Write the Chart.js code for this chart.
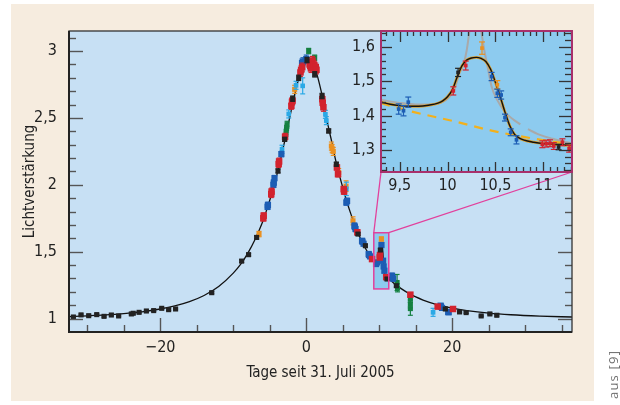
<!DOCTYPE html>
<html><head><meta charset="utf-8">
<script src="https://cdn.jsdelivr.net/npm/chart.js@4.4.1/dist/chart.umd.min.js"></script>
<style>
html,body{margin:0;padding:0;background:#fff;width:620px;height:405px;overflow:hidden;}
#bg{position:absolute;left:11px;top:4px;width:583px;height:397px;background:#f6ecdf;}
#main,#inset{position:absolute;left:0;top:0;}
#src{position:absolute;left:604px;top:399px;transform-origin:0 0;transform:rotate(-90deg);font:13px 'Open Sans',sans-serif;letter-spacing:1.2px;color:#6f6f6f;white-space:nowrap;}
</style></head><body>
<div id="bg"></div>
<canvas id="main" width="620" height="405"></canvas>
<canvas id="inset" width="620" height="405"></canvas>
<div id="src">aus [9]</div>
<script>
// ---------- data (days since 31 July 2005, magnification) ----------
const curveT = [-32.5,-30,-27.5,-25,-22.5,-20,-18,-16,-14,-12,-10,-9,-8,-7,-6,-5.5,-5,-4.5,-4,-3.5,-3,-2.5,-2,-1.5,-1,-0.5,0,0.3,0.6,1,1.5,2,2.5,3,3.5,4,4.5,5,5.5,6,6.5,7,7.5,8,8.5,9,9.3,9.6,9.9,10.0,10.1,10.2,10.3,10.4,10.5,10.6,10.7,10.8,11.0,11.3,12,13,14,15,16,18,20,22,25,28,32,36.4];
const curveA = [1.015,1.021,1.028,1.038,1.051,1.072,1.095,1.127,1.173,1.24,1.34,1.405,1.49,1.594,1.72,1.8,1.885,1.978,2.08,2.195,2.315,2.443,2.572,2.694,2.8,2.882,2.928,2.936,2.93,2.893,2.818,2.71,2.585,2.44,2.32,2.19,2.08,1.98,1.885,1.8,1.722,1.65,1.59,1.535,1.49,1.455,1.437,1.428,1.434,1.45,1.515,1.553,1.566,1.55,1.49,1.40,1.345,1.33,1.318,1.30,1.265,1.224,1.19,1.162,1.139,1.103,1.078,1.06,1.041,1.029,1.019,1.012];

// [t, A, error]
const obsBlack = [[-31.9,1.012,.006],[-30.85,1.028,.006],[-29.8,1.022,.006],[-28.7,1.03,.006],[-27.7,1.017,.006],[-26.7,1.027,.006],[-25.7,1.02,.006],[-23.96,1.035,.006],[-23.7,1.04,.006],[-22.9,1.047,.006],[-21.9,1.057,.006],[-20.9,1.06,.006],[-19.8,1.077,.006],[-18.85,1.067,.006],[-17.9,1.072,.006],[-12.95,1.194,.008],[-8.85,1.43,.01],[-7.9,1.478,.01],[-6.8,1.607,.012],[-3.87,2.104,.015],[-2.96,2.34,.015],[-1.86,2.644,.02],[-1.04,2.8,.02],[0.1,2.933,.02],[1.15,2.826,.02],[2.16,2.664,.02],[3.07,2.403,.015],[4.12,2.154,.015],[7.09,1.632,.01],[8.1,1.545,.01],[10.15,1.513,.01],[11.07,1.296,.01],[12.34,1.246,.01],[19.05,1.072,.008],[21.0,1.05,.006],[21.9,1.045,.006],[23.96,1.02,.006],[25.15,1.035,.006],[26.1,1.025,.006]];
const obsRed = [[-5.88,1.75,.02],[-5.83,1.77,.02],[-4.8,1.93,.025],[-4.75,1.95,.025],[-3.78,2.155,.025],[-3.72,2.175,.025],[-2.9,2.36,.025],[-2.04,2.59,.025],[-1.95,2.62,.025],[-1.88,2.63,.025],[-0.8,2.84,.03],[-0.7,2.86,.03],[-0.55,2.88,.03],[0.45,2.9,.03],[0.56,2.888,.03],[0.65,2.87,.03],[0.85,2.93,.03],[1.05,2.9,.03],[1.3,2.88,.03],[1.4,2.86,.03],[2.2,2.64,.03],[2.25,2.614,.03],[2.35,2.58,.03],[4.2,2.13,.02],[4.35,2.08,.02],[5.13,1.968,.02],[5.18,1.95,.02],[7.0,1.645,.02],[9.01,1.445,.015],[10.06,1.457,.015],[10.1,1.475,.015],[10.95,1.31,.015],[14.26,1.179,.015],[18.0,1.09,.015],[20.1,1.072,.015]];
const obsBlue = [[-5.3,1.836,.02],[-5.25,1.85,.02],[-4.5,2.0,.02],[-4.45,2.017,.02],[-4.35,2.05,.02],[-3.41,2.23,.02],[-0.58,2.91,.03],[-0.45,2.92,.03],[0.0,2.94,.03],[0.7,2.9,.03],[5.49,1.868,.02],[5.59,1.88,.02],[6.6,1.694,.02],[6.65,1.685,.02],[6.75,1.67,.02],[7.64,1.582,.015],[7.7,1.575,.015],[7.85,1.56,.015],[8.55,1.483,.015],[8.6,1.475,.015],[8.75,1.465,.015],[9.56,1.408,.015],[9.7,1.42,.015],[10.3,1.55,.015],[10.52,1.433,.015],[10.6,1.39,.015],[10.7,1.358,.015],[11.75,1.32,.02],[11.9,1.30,.02],[18.4,1.097,.015],[18.45,1.09,.015],[18.6,1.08,.015],[19.45,1.05,.015],[19.5,1.047,.015]];
const obsCyan = [[-3.32,2.266,.03],[-2.4,2.53,.03],[-1.4,2.744,.03],[-0.49,2.74,.06],[2.62,2.527,.03],[2.75,2.48,.03],[5.49,1.97,.05],[17.37,1.047,.03]];
const obsGreen = [[-2.77,2.39,.025],[-2.7,2.42,.025],[-2.63,2.45,.025],[0.33,3.0,.02],[1.15,2.95,.02],[12.44,1.27,.06],[12.5,1.23,.03],[14.26,1.15,.03],[14.26,1.11,.03],[14.26,1.075,.05]];
const obsOrange = [[-6.47,1.632,.02],[-1.59,2.714,.03],[3.44,2.29,.03],[3.55,2.27,.03],[3.7,2.25,.03],[4.44,2.092,.03],[5.45,1.99,.04],[6.4,1.731,.03],[10.29,1.595,.015]];

// inset (zoom on the planetary signal)
const zoomT = [9.305,9.4,9.5,9.6,9.7,9.8,9.9,9.95,10.0,10.05,10.1,10.15,10.2,10.25,10.3,10.35,10.4,10.45,10.5,10.55,10.6,10.65,10.7,10.75,10.8,10.9,11.0,11.1,11.2,11.3];
const zoomA = [1.439,1.433,1.429,1.427,1.427,1.43,1.436,1.443,1.455,1.475,1.512,1.545,1.562,1.568,1.57,1.567,1.558,1.535,1.497,1.455,1.41,1.37,1.345,1.334,1.328,1.322,1.318,1.316,1.314,1.312];
const noPlanetT = [9.305,9.65,10.07,10.46,10.87,11.3];
const noPlanetA = [1.436,1.41,1.383,1.356,1.334,1.316];
const altT = [9.305,9.5,9.7,9.85,9.95,10.02,10.07,10.12,10.17,10.2,10.235,10.28,10.345,10.38,10.42,10.46,10.52,10.6,10.68,10.76,10.8,10.84,10.95,11.1,11.3];
const altA = [1.446,1.437,1.432,1.433,1.44,1.455,1.475,1.52,1.553,1.59,1.66,null,1.66,1.597,1.54,1.485,1.445,1.41,1.39,1.374,null,1.36,1.345,1.332,1.318];
const zBlue = [[9.49,1.419,.015],[9.54,1.414,.015],[9.59,1.439,.015],[10.46,1.514,.012],[10.52,1.465,.012],[10.56,1.46,.012],[10.6,1.394,.01],[10.66,1.351,.01],[10.72,1.329,.012]];
const zRed = [[10.06,1.472,.012],[10.19,1.546,.013],[10.99,1.316,.01],[11.03,1.318,.01],[11.07,1.319,.01],[11.11,1.311,.01],[11.2,1.322,.01],[11.27,1.303,.01]];
const zBlack = [[10.11,1.526,.012],[11.16,1.308,.008]];
const zOrange = [[10.36,1.597,.018],[10.52,1.49,.012]];

// axis ranges / labels
const mainX = [-32.5, 36.4], mainY = [0.9, 3.15];
const zoomX = [9.305, 11.3], zoomY = [1.235, 1.647];
const boxT = [9.25, 11.3], boxA = [1.222, 1.642];
const xTitle = 'Tage seit 31. Juli 2005', yTitle = 'Lichtverstärkung';

// ---------- helpers ----------
const FONT = "'Liberation Sans Narrow','DejaVu Sans Condensed','Roboto Condensed','Liberation Sans',sans-serif";
const xy = (ts, as) => ts.map((t, i) => ({x: t, y: as[i]}));
const pts = a => a.map(p => ({x: p[0], y: p[1]}));
const errs = a => a.map(p => p[2]);
const comma = v => { const r = Math.round(v * 10) / 10; return (r < 0 ? '\u2212' : '') + String(Math.abs(r)).replace('.', ','); };
const COL = {black:'#222222', red:'#d2232e', blue:'#1c5db4', cyan:'#2aa9e6', green:'#148040', orange:'#ea9020'};

function ptSet(arr, color, order, r) {
  return {type:'scatter', data: pts(arr), errs: errs(arr), errColor: color, backgroundColor: color, borderColor: color,
          borderWidth: 0, pointStyle: 'rect', pointRadius: r, order: order};
}
function line(ctx, x1, y1, x2, y2) { ctx.beginPath(); ctx.moveTo(x1, y1); ctx.lineTo(x2, y2); ctx.stroke(); }

const errPlugin = {
  id: 'errbars',
  beforeDatasetDraw(chart, args) {
    const ds = chart.data.datasets[args.index];
    if (!ds.errs) return;
    const {ctx, chartArea: a, scales: {y}} = chart;
    ctx.save();
    ctx.beginPath(); ctx.rect(a.left, a.top, a.right - a.left, a.bottom - a.top); ctx.clip();
    ctx.strokeStyle = ds.errColor; ctx.lineWidth = 1.2;
    const cap = ds.capW || 2.5;
    args.meta.data.forEach((el, i) => {
      const v = ds.data[i].y, e = ds.errs[i];
      const y1 = y.getPixelForValue(v + e), y2 = y.getPixelForValue(v - e);
      line(ctx, el.x, y1, el.x, y2);
      line(ctx, el.x - cap, y1, el.x + cap, y1);
      line(ctx, el.x - cap, y2, el.x + cap, y2);
    });
    ctx.restore();
  }
};

const mainDeco = {
  id: 'mainDeco',
  beforeDatasetsDraw(chart) {
    const {ctx, chartArea: a, scales: {x, y}} = chart;
    ctx.save();
    ctx.fillStyle = '#c7e0f4';
    ctx.fillRect(a.left, a.top, a.right - a.left, a.bottom - a.top);
    const bx0 = x.getPixelForValue(boxT[0]), bx1 = x.getPixelForValue(boxT[1]);
    const by0 = y.getPixelForValue(boxA[1]), by1 = y.getPixelForValue(boxA[0]);
    ctx.fillStyle = '#8dcbef';
    ctx.fillRect(bx0, by0, bx1 - bx0, by1 - by0);
    ctx.restore();
  },
  afterDatasetsDraw(chart) {
    const {ctx, chartArea: a, scales: {x, y}} = chart;
    ctx.save();
    const bx0 = x.getPixelForValue(boxT[0]), bx1 = x.getPixelForValue(boxT[1]);
    const by0 = y.getPixelForValue(boxA[1]), by1 = y.getPixelForValue(boxA[0]);
    ctx.strokeStyle = '#e2409c'; ctx.lineWidth = 1.5;
    ctx.strokeRect(bx0, by0, bx1 - bx0, by1 - by0);
    ctx.strokeStyle = '#555'; ctx.lineWidth = 1.4;
    for (let k = 10; k <= 31; k++) {
      const py = Math.round(y.getPixelForValue(k / 10)) + 0.5;
      const L = (k % 5 === 0) ? 14 : 7;
      line(ctx, a.left, py, a.left + L, py);
      line(ctx, a.right, py, a.right - L, py);
    }
    for (let k = -30; k <= 35; k += 5) {
      const px = Math.round(x.getPixelForValue(k)) + 0.5;
      const L = (k % 20 === 0) ? 14 : 7;
      line(ctx, px, a.bottom, px, a.bottom - L);
    }
    ctx.strokeStyle = '#333'; ctx.lineWidth = 1.3;
    ctx.strokeRect(a.left, a.top, a.right - a.left, a.bottom - a.top);
    ctx.strokeStyle = '#222'; ctx.lineWidth = 2;
    line(ctx, a.left, a.top, a.left, a.bottom + 1);
    line(ctx, a.left - 1, a.bottom, a.right, a.bottom);
    ctx.restore();
  }
};

const mainChart = new Chart(document.getElementById('main'), {
  type: 'scatter',
  data: { datasets: [
    ptSet(obsBlack, COL.black, 1, 3.6),
    ptSet(obsRed, COL.red, 2, 4.6),
    ptSet(obsBlue, COL.blue, 3, 4.4),
    ptSet(obsCyan, COL.cyan, 4, 3.3),
    ptSet(obsGreen, COL.green, 5, 3.6),
    ptSet(obsOrange, COL.orange, 6, 3.6),
    {type: 'line', data: xy(curveT, curveA), borderColor: '#111', borderWidth: 1.3, pointRadius: 0,
     cubicInterpolationMode: 'monotone', fill: false, order: 20}
  ]},
  options: {
    responsive: false, animation: false, events: [],
    layout: {padding: {left: 0, top: 31, right: 48, bottom: 0}},
    plugins: {legend: {display: false}, tooltip: {enabled: false}},
    scales: {
      x: {type: 'linear', min: mainX[0], max: mainX[1],
          grid: {display: false, drawTicks: false}, border: {display: false},
          ticks: {stepSize: 5, includeBounds: false, autoSkip: false, maxRotation: 0, maxTicksLimit: 100, padding: 6,
                  color: '#222', font: {family: FONT, size: 16},
                  callback: v => (Math.abs(v % 20) < 1e-6 ? comma(v) : '')},
          title: {display: true, text: xTitle, color: '#222', font: {family: FONT, size: 15}, padding: {top: 0, bottom: 23}},
          afterFit: s => { s.height = 73; }},
      y: {type: 'linear', min: mainY[0], max: mainY[1],
          grid: {display: false, drawTicks: false}, border: {display: false},
          ticks: {stepSize: 0.5, includeBounds: false, autoSkip: false, padding: 12,
                  color: '#222', font: {family: FONT, size: 16}, callback: v => comma(v)},
          title: {display: true, text: yTitle, color: '#222', font: {family: FONT, size: 15}, padding: {top: 21, bottom: 0}},
          afterFit: s => { s.width = 69; }}
    }
  },
  plugins: [mainDeco, errPlugin]
});

const insetDeco = {
  id: 'insetDeco',
  beforeDraw(chart) {
    const {ctx, chartArea: a} = chart;
    const mx = mainChart.scales.x, my = mainChart.scales.y;
    ctx.save();
    ctx.strokeStyle = '#e2409c'; ctx.lineWidth = 1.3;
    const top = my.getPixelForValue(boxA[1]);
    line(ctx, mx.getPixelForValue(boxT[0]), top, a.left, a.bottom);
    line(ctx, mx.getPixelForValue(boxT[1]), top, a.right, a.bottom);
    ctx.restore();
  },
  beforeDatasetsDraw(chart) {
    const {ctx, chartArea: a} = chart;
    ctx.save(); ctx.fillStyle = '#8dcbef';
    ctx.fillRect(a.left, a.top, a.right - a.left, a.bottom - a.top);
    ctx.restore();
  },
  afterDatasetsDraw(chart) {
    const {ctx, chartArea: a, scales: {x, y}} = chart;
    ctx.save();
    ctx.strokeStyle = '#333'; ctx.lineWidth = 1.3;
    for (let k = -3; k <= 28; k++) {
      const v = 9.5 + k / 14;
      if (v <= zoomX[0] || v >= zoomX[1]) continue;
      const px = Math.round(x.getPixelForValue(v)) + 0.5;
      const major = k % 7 === 0;
      line(ctx, px, a.bottom, px, a.bottom - (major ? 10 : 5));
      line(ctx, px, a.top, px, a.top + (major ? 11 : 5));
    }
    for (let k = 62; k <= 82; k++) {
      const v = k / 50;
      if (v <= zoomY[0] || v >= zoomY[1]) continue;
      const py = Math.round(y.getPixelForValue(v)) + 0.5;
      const major = k % 5 === 0;
      line(ctx, a.left, py, a.left + (major ? 11 : 5), py);
      line(ctx, a.right, py, a.right - (major ? 13 : 7), py);
    }
    ctx.strokeStyle = '#a8306c'; ctx.lineWidth = 2;
    ctx.strokeRect(a.left, a.top, a.right - a.left, a.bottom - a.top);
    ctx.restore();
  }
};

function zSet(arr, color, order) {
  const d = ptSet(arr, color, order, 2.6); d.capW = 3; return d;
}

const insetChart = new Chart(document.getElementById('inset'), {
  type: 'scatter',
  data: { datasets: [
    zSet(zBlack, COL.black, 1),
    zSet(zRed, COL.red, 2),
    zSet(zBlue, COL.blue, 3),
    zSet(zOrange, COL.orange, 4),
    {type: 'line', data: xy(zoomT, zoomA), borderColor: '#111', borderWidth: 1.4, pointRadius: 0, cubicInterpolationMode: 'monotone', order: 10},
    {type: 'line', data: xy(zoomT, zoomA), borderColor: '#d9a030', borderWidth: 2.8, pointRadius: 0, cubicInterpolationMode: 'monotone', order: 11},
    {type: 'line', data: xy(noPlanetT, noPlanetA), borderColor: '#f2b01c', borderWidth: 2.2, borderDash: [9, 7], pointRadius: 0, cubicInterpolationMode: 'monotone', order: 12},
    {type: 'line', data: xy(altT, altA), borderColor: '#a9a9a9', borderWidth: 2, pointRadius: 0, cubicInterpolationMode: 'monotone', spanGaps: false, order: 13}
  ]},
  options: {
    responsive: false, animation: false, events: [],
    layout: {padding: {left: 341, top: 31, right: 48, bottom: 208}},
    plugins: {legend: {display: false}, tooltip: {enabled: false}},
    scales: {
      x: {type: 'linear', min: zoomX[0], max: zoomX[1],
          grid: {display: false, drawTicks: false}, border: {display: false},
          ticks: {stepSize: 0.5, includeBounds: false, autoSkip: false, maxRotation: 0, padding: 4,
                  color: '#222', font: {family: FONT, size: 16}, callback: v => comma(v)},
          afterFit: s => { s.height = 25; }},
      y: {type: 'linear', min: zoomY[0], max: zoomY[1],
          grid: {display: false, drawTicks: false}, border: {display: false},
          ticks: {stepSize: 0.1, includeBounds: false, autoSkip: false, padding: 6,
                  color: '#222', font: {family: FONT, size: 16}, callback: v => comma(v)},
          afterFit: s => { s.width = 40; }}
    }
  },
  plugins: [insetDeco, errPlugin]
});
</script>
</body></html>
